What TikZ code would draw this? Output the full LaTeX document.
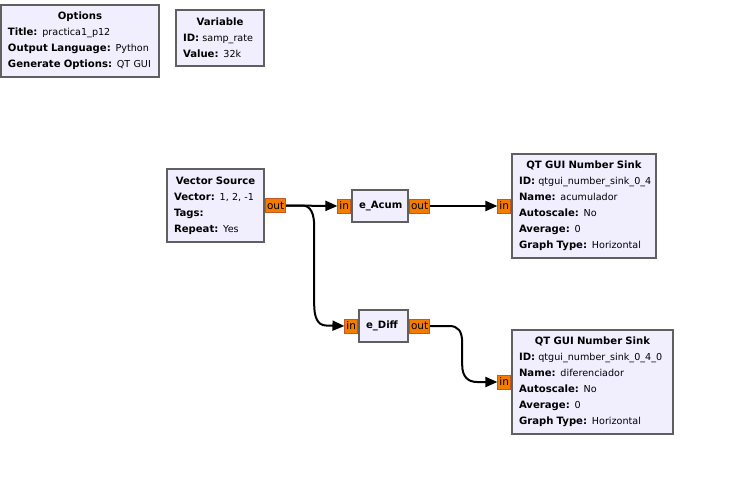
\documentclass[tikz,border=0pt]{standalone}
\usepackage{fontspec}
\setmainfont{DejaVu Sans}
\usetikzlibrary{arrows.meta}
\definecolor{blockfill}{HTML}{F1EEFE}
\definecolor{blockline}{HTML}{606060}
\definecolor{portfill}{HTML}{F37B00}
\definecolor{portline}{HTML}{C0582A}
\newcommand\hd[1]{{\fontsize{10.1}{16}\selectfont\bfseries #1}}
\newcommand\kv[2]{\mbox{\hd{#1:} #2}}
\tikzset{
	block/.style={draw=blockline, fill=blockfill, line width=2pt, anchor=north west, outer sep=0pt,
		inner xsep=7pt, inner ysep=0pt, align=left, font=\fontsize{9.6}{16}\selectfont},
	port/.style={draw=portline, fill=portfill, line width=1pt, inner xsep=1.5pt, inner ysep=0pt,
		minimum height=14pt, font=\fontsize{10.5}{11}\selectfont},
	wire/.style={line width=2pt, -{Triangle[length=12pt,width=10pt]}}
}
\begin{document}
\begin{tikzpicture}[x=1pt, y=-1pt]
		\useasboundingbox (0,0) rectangle (752,479);

		\node[block, minimum width=158, text width=144, minimum height=72] (opts) at (1,5)
			{\centering\hd{Options}\par\raggedright\kv{Title}{practica1\_p12}\\\kv{Output Language}{Python}\\\kv{Generate Options}{QT GUI}};
		\node[block, minimum width=88, text width=74, minimum height=56] (var) at (176,10)
			{\centering\hd{Variable}\par\raggedright\kv{ID}{samp\_rate}\\\kv{Value}{32k}};

		\node[block, minimum width=97, text width=83, minimum height=73] (vsrc) at (167,169)
			{\centering\hd{Vector Source}\par\raggedright\kv{Vector}{1, 2, -1}\\\hd{Tags:}\\\kv{Repeat}{Yes}};
		\node[block, minimum width=56, text width=42, minimum height=32] (acum) at (352,190)
			{\centering\hd{e\_Acum}};
		\node[block, minimum width=49, text width=35, minimum height=32] (diff) at (359,310)
			{\centering\hd{e\_Diff}};
		\node[block, minimum width=144, text width=130, minimum height=104] (sinka) at (512,154)
			{\centering\hd{QT GUI Number Sink}\par\raggedright\kv{ID}{qtgui\_number\_sink\_0\_4}\\\kv{Name}{acumulador}\\\kv{Autoscale}{No}\\\kv{Average}{0}\\\kv{Graph Type}{Horizontal}};
		\node[block, minimum width=161, text width=147, minimum height=104] (sinkb) at (512,330)
			{\centering\hd{QT GUI Number Sink}\par\raggedright\kv{ID}{qtgui\_number\_sink\_0\_4\_0}\\\kv{Name}{diferenciador}\\\kv{Autoscale}{No}\\\kv{Average}{0}\\\kv{Graph Type}{Horizontal}};

		\node[port, anchor=west] (vsrc-out) at ([xshift=1]vsrc.east) {out};
		\node[port, anchor=east] (acum-in) at ([xshift=-1]acum.west) {in};
		\node[port, anchor=west] (acum-out) at ([xshift=1]acum.east) {out};
		\node[port, anchor=east] (diff-in) at ([xshift=-1]diff.west) {in};
		\node[port, anchor=west] (diff-out) at ([xshift=1]diff.east) {out};
		\node[port, anchor=east] (sinka-in) at ([xshift=-1]sinka.west) {in};
		\node[port, anchor=east] (sinkb-in) at ([xshift=-1]sinkb.west) {in};

		\draw[wire] (vsrc-out.east) -- (acum-in.west);
		\draw[wire] (vsrc-out.east) -- ++(16,0) .. controls +(9,0) and +(0,-12) .. ++(12,21) -- ++(0,78) .. controls +(0,12) and +(-9,0) .. ++(12,21) -- (diff-in.west);
		\draw[wire] (acum-out.east) -- (acum-out.east -| sinka-in.west);
		\draw[wire] (diff-out.east) -- ++(19,0) .. controls +(9,0) and +(0,-12) .. ++(13,17) -- ++(0,22) .. controls +(0,12) and +(-9,0) .. ++(15,17) -- (sinkb-in.west);
\end{tikzpicture}
\end{document}
